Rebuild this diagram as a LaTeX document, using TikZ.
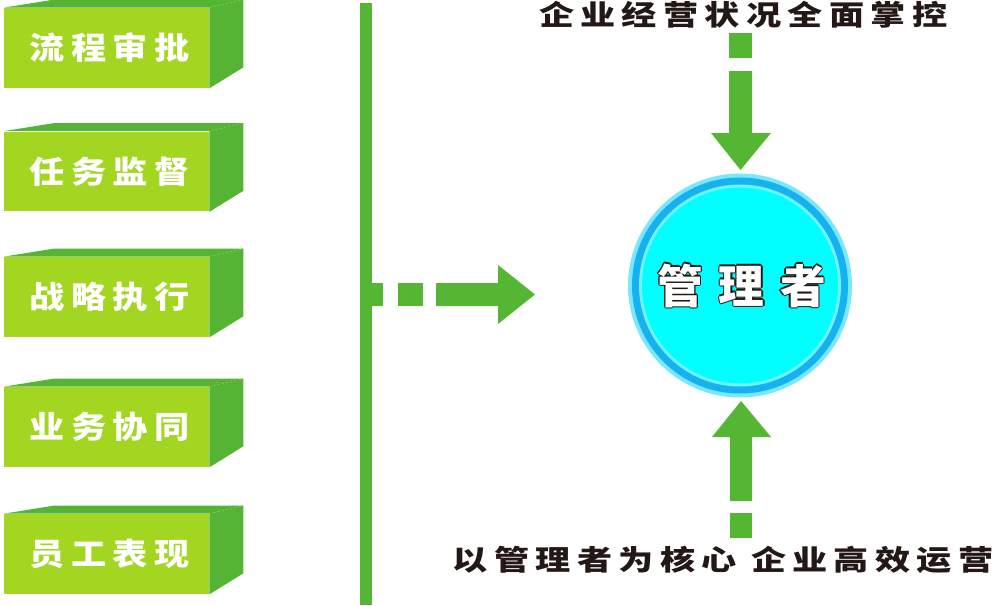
\documentclass[tikz,border=0pt]{standalone}
\usepackage{fontspec}
\usepackage{graphicx}
\usetikzlibrary{calc}
\newfontfamily\cjk[LetterSpace=18]{Noto Sans CJK SC}
\newfontfamily\cjkwide[LetterSpace=34]{Noto Sans CJK SC}

\definecolor{boxfront}{RGB}{162,214,32}
\definecolor{boxside}{RGB}{86,180,52}
\definecolor{arrowgreen}{RGB}{84,182,50}
\definecolor{ringpale}{RGB}{120,232,252}
\definecolor{ringdark}{RGB}{22,178,240}
\definecolor{ringlite}{RGB}{112,242,255}
\definecolor{mgrfill}{RGB}{0,255,255}
\definecolor{inkdark}{RGB}{35,24,21}

% white letters with a thin dark rim
\newcommand\rimmed[1]{%
  \rlap{\color{inkdark}\kern0.7pt#1}\rlap{\color{inkdark}\kern-0.7pt#1}%
  \rlap{\color{inkdark}\raisebox{0.7pt}{#1}}\rlap{\color{inkdark}\raisebox{-0.7pt}{#1}}%
  \rlap{\color{inkdark}\kern0.5pt\raisebox{0.5pt}{#1}}\rlap{\color{inkdark}\kern-0.5pt\raisebox{0.5pt}{#1}}%
  \rlap{\color{inkdark}\kern0.5pt\raisebox{-0.5pt}{#1}}\rlap{\color{inkdark}\kern-0.5pt\raisebox{-0.5pt}{#1}}%
  #1}
% flattened letters
\newcommand\squat[2][0.8]{\scalebox{1}[#1]{\kern3.6pt#2}}

\tikzset{
  itembox/.style={fill=boxfront, minimum width=4.1cm, minimum height=1.6cm,
    inner sep=0pt, text=white, font=\cjk\bfseries\fontsize{20pt}{20pt}\selectfont},
  mgrnode/.style={circle, fill=mgrfill, minimum size=3.92cm, inner sep=0pt, text=white,
    font=\cjkwide\bfseries\fontsize{26pt}{26pt}\selectfont},
  slogan/.style={text=inkdark, inner sep=0pt, font=\cjk\bfseries\fontsize{20pt}{20pt}\selectfont},
}

\begin{document}
\begin{tikzpicture}[x=0.02cm,y=-0.02cm]
  \useasboundingbox (0,0) rectangle (1000,605);

  % the five boxes on the left
  \node[itembox] (flow)  at (106.5,48)  {\squat[0.88]{流程审批}};
  \node[itembox] (task)  at (106.5,171.5) {\squat[0.88]{任务监督}};
  \node[itembox] (plan)  at (106.5,297) {\squat[0.88]{战略执行}};
  \node[itembox] (team)  at (106.5,427) {\squat[0.88]{业务协同}};
  \node[itembox] (staff) at (106.5,554) {\squat[0.88]{员工表现}};
  \foreach \b in {flow,task,plan,team,staff} {
    \fill[boxside] (\b.north west) -- ++(50,-8) -- ($(\b.north east)+(34,-8)$) -- (\b.north east) -- cycle;
    \fill[boxside] (\b.north east) -- ++(34,-8) -- ($(\b.south east)+(34,-21)$) -- (\b.south east) -- cycle;
  }

  % bar and dashed arrow to the right
  \fill[arrowgreen] (360,3) rectangle (372,605);
  \fill[arrowgreen] (372,283) rectangle (383,306);
  \fill[arrowgreen] (398,283) rectangle (423,306);
  \fill[arrowgreen] (436,283) -- (498,283) -- (498,265) -- (535,294.5)
    -- (498,324) -- (498,306) -- (436,306) -- cycle;

  % the manager
  \coordinate (mgrc) at (740,285.5);
  \fill[ringpale] (mgrc) circle[radius=112];
  \fill[ringdark] (mgrc) circle[radius=108];
  \fill[ringlite] (mgrc) circle[radius=101];
  \node[mgrnode] (mgr) at (mgrc) {\kern2pt\rimmed{管理者}};

  % top and bottom
  \node[slogan] (top) at (740,14.5) {\squat{企业经营状况全面掌控}};
  \fill[arrowgreen] (729,33) rectangle (752,58);
  \fill[arrowgreen] (729,71) -- (752,71) -- (752,133) -- (771,133) -- (740.5,170)
    -- (711,133) -- (729,133) -- cycle;

  \node[slogan] (bottom) at (720,560) {\squat{以管理者为核心 企业高效运营}};
  \fill[arrowgreen] (730,513) rectangle (752,538);
  \fill[arrowgreen] (730,501) -- (752,501) -- (752,437) -- (771,437) -- (741,401)
    -- (712,437) -- (730,437) -- cycle;
\end{tikzpicture}
\end{document}
